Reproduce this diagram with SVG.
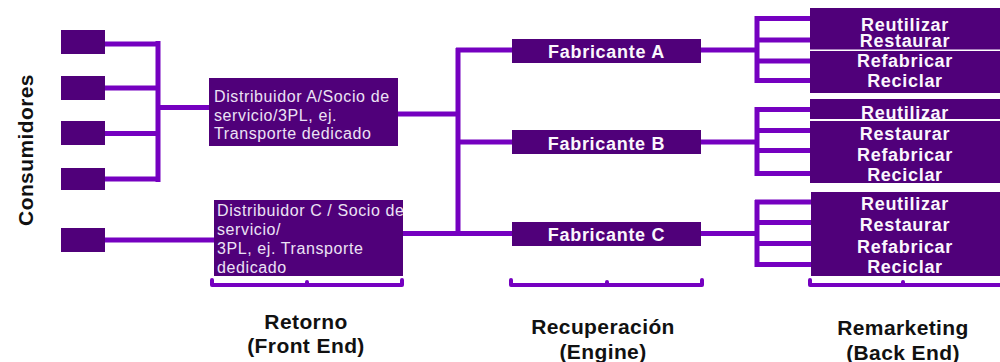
<svg xmlns="http://www.w3.org/2000/svg" width="1000" height="362" viewBox="0 0 1000 362">
<style>
.box{fill:#50007a}
.ln{stroke:#7500c0;stroke-width:5;fill:none}
.br{stroke:#7500c0;stroke-width:4;fill:none;stroke-linecap:round;stroke-linejoin:round}
.dt{font-family:"Liberation Sans",Arial,sans-serif;font-size:16px;fill:#ece2f5;letter-spacing:0.6px}
.bt{font-family:"Liberation Sans",Arial,sans-serif;font-size:18px;font-weight:bold;fill:#fbf7fd;text-anchor:middle;letter-spacing:0.7px}
.sec{font-family:"Liberation Sans",Arial,sans-serif;font-size:21px;font-weight:bold;fill:#111;text-anchor:middle;letter-spacing:0.4px}
</style>
<defs>
<clipPath id="clipC"><rect x="214" y="200" width="189" height="76"/></clipPath>
</defs>
<rect width="1000" height="362" fill="#fff"/>

<g id="connectors">
<path class="ln" d="M103,44H158M103,88H158M103,133.5H158M103,179H158M158,41V182M158,107.5H211"/>
<path class="ln" d="M101,240H215"/>
<path class="ln" d="M397,114H458M402,233.5H458M458,48V236M456,50H513M456,142H513M456,233.5H513"/>
<path class="ln" d="M700,50H757M757,16V83M755,18.5H811M755,40H811M755,61H811M755,80.5H811"/>
<path class="ln" d="M700,142H757M757,107V176M755,109.5H811M755,130.5H811M755,150.5H811M755,173.5H811"/>
<path class="ln" d="M700,233.5H757M757,200V267M755,202H811M755,222.5H811M755,243.5H811M755,264.5H811"/>
<path class="br" d="M212,280V285H402V280M307,282V285"/>
<path class="br" d="M511,280V285H702V280M607,282V285"/>
<path class="br" d="M810,280V285H1002M903,282V285"/>
</g>

<g id="consumidores-label"><text class="sec" transform="translate(33,150) rotate(-90)">Consumidores</text></g>
<g id="consumidor-1"><rect class="box" x="61" y="30" width="44" height="24"/></g>
<g id="consumidor-2"><rect class="box" x="61" y="76" width="44" height="24"/></g>
<g id="consumidor-3"><rect class="box" x="61" y="121" width="44" height="24"/></g>
<g id="consumidor-4"><rect class="box" x="61" y="168" width="44" height="22"/></g>
<g id="consumidor-5"><rect class="box" x="61" y="228" width="44" height="24"/></g>

<g id="distribuidor-a">
<rect class="box" x="209" y="78" width="189" height="68"/>
<text class="dt" x="214" y="102">Distribuidor A/Socio de</text>
<text class="dt" x="214" y="121">servicio/3PL, ej.</text>
<text class="dt" x="214" y="139">Transporte dedicado</text>
</g>

<g id="distribuidor-c">
<rect class="box" x="214" y="200" width="189" height="76"/>
<g clip-path="url(#clipC)">
<text class="dt" x="217" y="216">Distribuidor C / Socio de</text>
<text class="dt" x="217" y="235">servicio/</text>
<text class="dt" x="217" y="254">3PL, ej. Transporte</text>
<text class="dt" x="217" y="273">dedicado</text>
</g>
</g>

<g id="fabricante-a"><rect class="box" x="512" y="39" width="189" height="24"/><text class="bt" x="606.5" y="57.5">Fabricante A</text></g>
<g id="fabricante-b"><rect class="box" x="512" y="130" width="189" height="24"/><text class="bt" x="606.5" y="149.5">Fabricante B</text></g>
<g id="fabricante-c"><rect class="box" x="512" y="222" width="189" height="24"/><text class="bt" x="606.5" y="240.5">Fabricante C</text></g>

<g id="remarketing-a">
<rect class="box" x="810" y="8" width="190" height="41.5"/>
<rect class="box" x="810" y="51" width="190" height="42"/>
<text class="bt" x="905" y="30.5">Reutilizar</text>
<text class="bt" x="905" y="47">Restaurar</text>
<text class="bt" x="905" y="67">Refabricar</text>
<text class="bt" x="905" y="87">Reciclar</text>
</g>
<g id="remarketing-b">
<rect class="box" x="810" y="99" width="190" height="20"/>
<rect class="box" x="810" y="121" width="190" height="62"/>
<text class="bt" x="905" y="118.5">Reutilizar</text>
<text class="bt" x="905" y="140">Restaurar</text>
<text class="bt" x="905" y="161">Refabricar</text>
<text class="bt" x="905" y="181">Reciclar</text>
</g>
<g id="remarketing-c">
<rect class="box" x="811" y="192" width="189" height="84"/>
<text class="bt" x="905" y="210">Reutilizar</text>
<text class="bt" x="905" y="231">Restaurar</text>
<text class="bt" x="905" y="253">Refabricar</text>
<text class="bt" x="905" y="273">Reciclar</text>
</g>

<g id="section-retorno"><text class="sec" x="306" y="329">Retorno</text><text class="sec" x="306" y="353">(Front End)</text></g>
<g id="section-recuperacion"><text class="sec" x="603" y="334">Recuperación</text><text class="sec" x="603" y="359">(Engine)</text></g>
<g id="section-remarketing"><text class="sec" x="903" y="335">Remarketing</text><text class="sec" x="903" y="360">(Back End)</text></g>
</svg>
